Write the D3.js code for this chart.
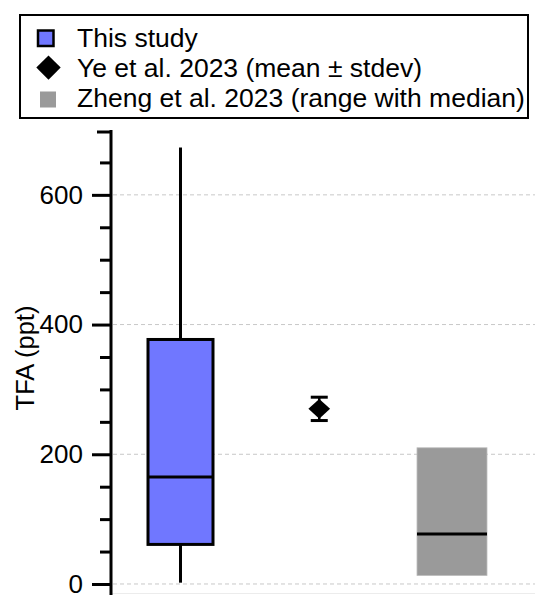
<!DOCTYPE html>
<html><head><meta charset="utf-8">
<script src="https://cdn.jsdelivr.net/npm/d3@7"></script>
<style>html,body{margin:0;padding:0;background:#fff;} svg{display:block;font-family:"Liberation Sans",Arial,sans-serif;}</style>
</head><body><svg id="c" width="535" height="595"></svg>
<script>
const categories = ["This study", "Ye et al. 2023", "Zheng et al. 2023"];
const legendLabels = ["This study", "Ye et al. 2023 (mean \u00b1 stdev)", "Zheng et al. 2023 (range with median)"];
// This study box plot: min, q1, median, q3, max
const boxStats = [2, 61, 165, 377, 673];
// Ye et al.: mean, stdev
const yeStats = [270, 18];
// Zheng et al.: min, median, max
const zhengStats = [13, 77, 210];
const majorTicks = [0, 200, 400, 600];
const minorTicks = [50, 100, 150, 250, 300, 350, 450, 500, 550, 650];
const yLabel = "TFA (ppt)";

const colors = {blue: "#7077FF", grey: "#9a9a9a"};
const svg = d3.select("#c");
const y = d3.scaleLinear().domain([-17, 700]).range([595, 130]);
const x = d3.scalePoint().domain(categories).range([180.5, 452]);
const axisX = 111;

// gridlines
svg.append("g").selectAll("line").data(majorTicks).join("line")
  .attr("x1", axisX + 2).attr("x2", 535)
  .attr("y1", d => y(d)).attr("y2", d => y(d))
  .attr("stroke", "#c8c8c8").attr("stroke-width", 1).attr("stroke-dasharray", "4,3");
svg.append("line").attr("x1", axisX).attr("x2", 535).attr("y1", 593.5).attr("y2", 593.5)
  .attr("stroke", "#ececec").attr("stroke-width", 1);

// y axis
const gAx = svg.append("g").attr("transform", `translate(${axisX},0)`);
gAx.call(d3.axisLeft(y).tickValues(majorTicks).tickSize(19).tickPadding(9).tickSizeOuter(0))
gAx.select(".domain").remove();
gAx.selectAll(".tick line").attr("stroke", "#000").attr("stroke-width", 3);
gAx.selectAll(".tick text").attr("font-size", 26).attr("fill", "#000")
  .attr("font-family", "Liberation Sans, Arial, sans-serif");
const gMin = svg.append("g").attr("transform", `translate(${axisX},0)`);
gMin.call(d3.axisLeft(y).tickValues(minorTicks).tickSize(11).tickFormat(""));
gMin.select(".domain").remove();
gMin.selectAll(".tick line").attr("stroke", "#000").attr("stroke-width", 3);
const gTop = svg.append("g").attr("transform", `translate(${axisX},0)`);
gTop.call(d3.axisLeft(y).tickValues([700]).tickSize(14).tickFormat(""));
gTop.select(".domain").remove();
gTop.selectAll(".tick line").attr("stroke", "#000").attr("stroke-width", 3).attr("transform", `translate(0,${1.5})`);
svg.append("line").attr("x1", axisX).attr("x2", axisX).attr("y1", y(700)).attr("y2", 595)
  .attr("stroke", "#000").attr("stroke-width", 3);

svg.append("text").attr("transform", `translate(34,${358}) rotate(-90)`)
  .attr("text-anchor", "middle").attr("font-size", 25.5).text(yLabel);

// box plot: This study
const bw = 65, cx0 = x(categories[0]);
const [mn, q1, md, q3, mx] = boxStats;
svg.append("line").attr("x1", cx0).attr("x2", cx0).attr("y1", y(mx)).attr("y2", y(q3)).attr("stroke", "#000").attr("stroke-width", 3);
svg.append("line").attr("x1", cx0).attr("x2", cx0).attr("y1", y(q1)).attr("y2", y(mn)).attr("stroke", "#000").attr("stroke-width", 3);
svg.append("rect").attr("x", cx0 - bw / 2).attr("y", y(q3)).attr("width", bw).attr("height", y(q1) - y(q3))
  .attr("fill", colors.blue).attr("stroke", "#000").attr("stroke-width", 3);
svg.append("line").attr("x1", cx0 - bw / 2).attr("x2", cx0 + bw / 2).attr("y1", y(md)).attr("y2", y(md)).attr("stroke", "#000").attr("stroke-width", 3);

// Ye: mean ± sd
const cx1 = x(categories[1]) + 3;
const [mean, sd] = yeStats;
svg.append("line").attr("x1", cx1).attr("x2", cx1).attr("y1", y(mean + sd)).attr("y2", y(mean - sd)).attr("stroke", "#000").attr("stroke-width", 2.5);
[mean + sd, mean - sd].forEach(v => svg.append("line").attr("x1", cx1 - 8.5).attr("x2", cx1 + 8.5).attr("y1", y(v)).attr("y2", y(v)).attr("stroke", "#000").attr("stroke-width", 3));
svg.append("path").attr("d", d3.symbol(d3.symbolDiamond2, 300)()).attr("transform", `translate(${cx1},${y(mean)}) scale(1,0.92)`).attr("fill", "#000");

// Zheng: range with median
const bw2 = 70, cx2 = x(categories[2]);
const [zmn, zmd, zmx] = zhengStats;
svg.append("rect").attr("x", cx2 - bw2 / 2).attr("y", y(zmx)).attr("width", bw2).attr("height", y(zmn) - y(zmx))
  .attr("fill", colors.grey).attr("stroke", "#bdbdbd").attr("stroke-width", 0.8);
svg.append("line").attr("x1", cx2 - bw2 / 2).attr("x2", cx2 + bw2 / 2).attr("y1", y(zmd)).attr("y2", y(zmd)).attr("stroke", "#000").attr("stroke-width", 3);

// legend
const lg = svg.append("g");
lg.append("rect").attr("x", 20).attr("y", 15).attr("width", 508).attr("height", 103)
  .attr("fill", "#fff").attr("stroke", "#000").attr("stroke-width", 2);
const rowY = d3.scalePoint().domain(legendLabels).range([46.7, 106.5]);
lg.selectAll("text").data(legendLabels).join("text")
  .attr("x", 77).attr("y", d => rowY(d)).attr("font-size", 26.5).text(d => d);
lg.append("rect").attr("x", 38).attr("y", 30.5).attr("width", 15.5).attr("height", 15.5)
  .attr("fill", colors.blue).attr("stroke", "#000").attr("stroke-width", 2.5);
lg.append("path").attr("d", d3.symbol(d3.symbolDiamond2, 380)()).attr("transform", `translate(48.5,${rowY(legendLabels[1]) - 9})`).attr("fill", "#000");
lg.append("rect").attr("x", 40).attr("y", 91.5).attr("width", 16).attr("height", 16).attr("fill", colors.grey);
</script></body></html>
